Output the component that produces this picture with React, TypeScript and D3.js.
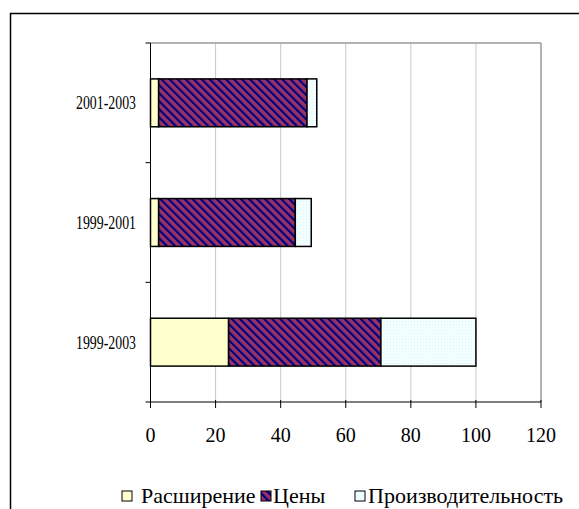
import * as d3 from 'd3';

const categories = ['2001-2003', '1999-2001', '1999-2003'];
const expansion = [2.5, 2.5, 24];
const prices = [45.6, 42, 46.8];
const productivity = [3, 4.9, 29.2];
const xTicks = [0, 20, 40, 60, 80, 100, 120];
const seriesNames = ['Расширение', 'Цены', 'Производительность'];

const W = 579;
const H = 509;
const plot = { left: 150.5, right: 541, top: 43, bottom: 402 };
const FONT = "'Liberation Serif', 'DejaVu Serif', serif";

export default function App() {
  const x = d3.scaleLinear().domain([0, 120]).range([plot.left, plot.right]);
  const y = d3.scaleBand().domain(categories).range([plot.top, plot.bottom]).paddingInner(0.6).paddingOuter(0.3);
  const band = d3.scaleBand().domain(categories).range([plot.top, plot.bottom]);

  const rows = categories.map((c, i) => ({ c, vals: [expansion[i], prices[i], productivity[i]] }));
  const stack = d3.stack<{ c: string; vals: number[] }, number>()
    .keys([0, 1, 2])
    .value((d, k) => d.vals[k])(rows);

  const fills = ['#ffffcc', 'url(#stripes)', 'url(#dots)'];
  const txt = { fontFamily: FONT, fill: '#000' };

  return (
    <svg width={W} height={H} style={{ position: 'absolute', left: 0, top: 0, background: '#fff' }}>
      <defs>
        <pattern id="stripes" patternUnits="userSpaceOnUse" width={5.7} height={5.7} patternTransform="rotate(-45)">
          <rect width={5.7} height={5.7} fill="#993366" />
          <rect width={2.2} height={5.7} fill="#000080" />
        </pattern>
        <pattern id="dots" patternUnits="userSpaceOnUse" width={3} height={3}>
          <rect width={3} height={3} fill="#f6ffff" />
          <rect x={0} y={0} width={1} height={1} fill="#d8f4ff" />
          <rect x={1.5} y={1.5} width={1} height={1} fill="#e2ffff" />
        </pattern>
      </defs>

      {/* outer frame */}
      <rect x={10.5} y={13.5} width={620} height={620} fill="none" stroke="#000" strokeWidth={1.5} />

      {/* gridlines */}
      {xTicks.slice(1).map((t) => (
        <line key={t} x1={x(t)} x2={x(t)} y1={plot.top} y2={plot.bottom}
          stroke={t === 120 ? '#999' : '#c8c8c8'} strokeWidth={t === 120 ? 1.5 : 1} />
      ))}
      <line x1={plot.left} x2={plot.right} y1={plot.top} y2={plot.top} stroke="#999" strokeWidth={1.5} />

      {/* bars */}
      {stack.map((s, si) => (
        <g key={si}>
          {s.map((d, i) => (
            <rect key={i} x={x(d[0])} y={y(categories[i])} width={x(d[1]) - x(d[0])} height={y.bandwidth()}
              fill={fills[si]} stroke="#000" strokeWidth={1.5} />
          ))}
        </g>
      ))}

      {/* axes */}
      <line x1={plot.left} x2={plot.left} y1={plot.top} y2={plot.bottom} stroke="#000" strokeWidth={1} />
      <line x1={plot.left - 5} x2={plot.right} y1={plot.bottom} y2={plot.bottom} stroke="#000" strokeWidth={1} />
      {categories.map((c) => (
        <line key={c} x1={plot.left - 5} x2={plot.left} y1={band(c)!} y2={band(c)!} stroke="#000" />
      ))}
      {xTicks.map((t) => (
        <g key={t}>
          <line x1={x(t)} x2={x(t)} y1={plot.bottom - 2} y2={plot.bottom + 6} stroke="#000" />
          <text x={x(t)} y={442} textAnchor="middle" fontSize={20} style={txt}>{t}</text>
        </g>
      ))}
      {categories.map((c) => (
        <text key={c} x={136} y={band(c)! + band.bandwidth() / 2 + 6.5} textAnchor="end" fontSize={19}
          textLength={60} lengthAdjust="spacingAndGlyphs" style={txt}>{c}</text>
      ))}

      {/* legend */}
      {seriesNames.map((n, i) => {
        const sx = [122, 261, 355][i];
        const tx = [141, 273, 368][i];
        return (
          <g key={n}>
            <rect x={sx} y={491} width={10} height={10} fill={fills[i]} stroke="#000" strokeWidth={1} />
            <text x={tx} y={503} fontSize={22} style={txt}>{n}</text>
          </g>
        );
      })}
    </svg>
  );
}
